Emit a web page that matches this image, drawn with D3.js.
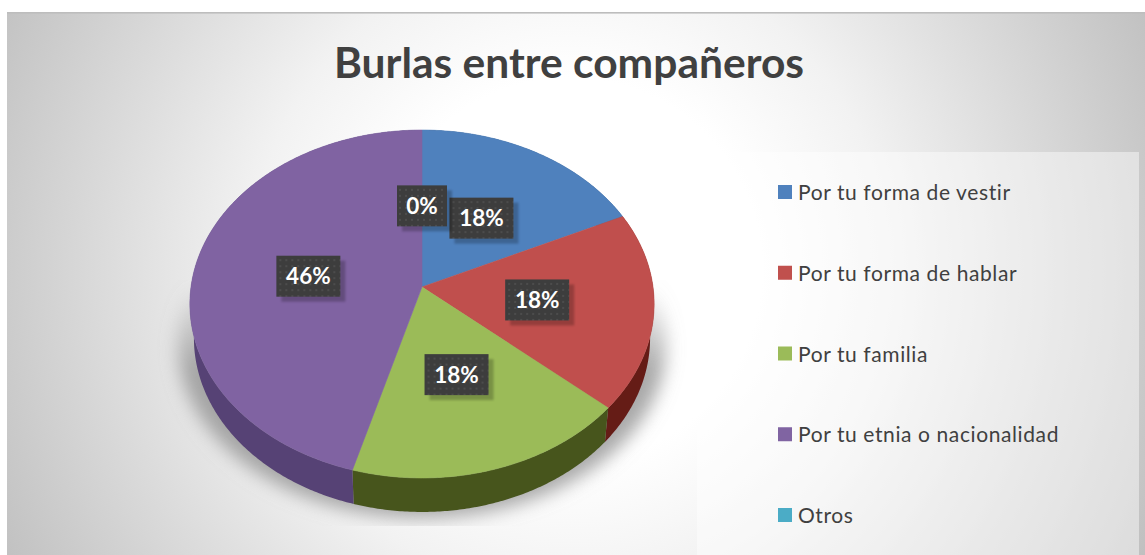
<!DOCTYPE html>
<html><head><meta charset="utf-8">
<script src="https://cdn.jsdelivr.net/npm/d3@7/dist/d3.min.js"></script>
<style>html,body{margin:0;padding:0;background:#fff;overflow:hidden}svg{display:block}text{font-family:Lato,"Open Sans",sans-serif}</style>
</head><body><svg id="c" width="1145" height="555"></svg>
<script>
const chartTitle = "Burlas entre compañeros";
const categories = ["Por tu forma de vestir","Por tu forma de hablar","Por tu familia","Por tu etnia o nacionalidad","Otros"];
const values = [18, 18.4, 18, 45.6, 0];
const labels = ["18%","18%","18%","46%","0%"];
const colors = ["#4f81bd","#c0504d","#9bbb59","#8064a2","#4bacc6"];
const wallColors = ["#2f4d72","#651a16","#47541e","#574274","#2d6b7a"];

const svg = d3.select("#c");
const defs = svg.append("defs");
const grad = defs.append("radialGradient").attr("id","bg").attr("gradientUnits","userSpaceOnUse")
  .attr("cx",570).attr("cy",270).attr("r",640);
[[0,"#ffffff"],[0.3,"#ffffff"],[0.5,"#f2f2f2"],[1,"#c0c0c0"]].forEach(s=>grad.append("stop").attr("offset",s[0]).attr("stop-color",s[1]));
const shGrad = defs.append("linearGradient").attr("id","shG").attr("gradientUnits","userSpaceOnUse").attr("x1",0).attr("x2",0).attr("y1",285).attr("y2",370);
[[0,"#939393",0],[1,"#939393",0.8]].forEach(s=>shGrad.append("stop").attr("offset",s[0]).attr("stop-color",s[1]).attr("stop-opacity",s[2]));
defs.append("filter").attr("id","blurS").attr("x","-20%").attr("y","-20%").attr("width","140%").attr("height","140%")
  .append("feGaussianBlur").attr("stdDeviation",9);
defs.append("filter").attr("id","blurB").attr("x","-20%").attr("y","-20%").attr("width","140%").attr("height","140%")
  .append("feGaussianBlur").attr("stdDeviation",1.2);
defs.append("filter").attr("id","soft").append("feGaussianBlur").attr("stdDeviation",0.7);
defs.append("clipPath").attr("id","shClip").append("rect").attr("x",150).attr("y",280).attr("width",540).attr("height",246);
const pat = defs.append("pattern").attr("id","dots").attr("patternUnits","userSpaceOnUse").attr("width",6).attr("height",6);
pat.append("rect").attr("width",6).attr("height",6).attr("fill","#3d3d3d");
pat.append("rect").attr("x",1).attr("y",1).attr("width",2).attr("height",2).attr("fill","#4c4c4c");

// card
svg.append("rect").attr("x",7).attr("y",12).attr("width",1138).attr("height",543).attr("fill","url(#bg)");
svg.append("rect").attr("x",7).attr("y",12).attr("width",1138).attr("height",1.6).attr("fill","#bdbdbd");

// title
svg.append("text").attr("x",569).attr("y",78).attr("text-anchor","middle")
  .attr("font-size",42).attr("font-weight",700).attr("fill","#404040")
  .attr("textLength",470).attr("lengthAdjust","spacingAndGlyphs").text(chartTitle);

// legend
svg.append("rect").attr("x",697).attr("y",152).attr("width",442).attr("height",403).attr("fill","#ffffff").attr("opacity",0.45);
const yLegend = d3.scalePoint().domain(categories).range([192,515]);
const lg = svg.append("g").selectAll("g").data(categories).join("g");
lg.append("rect").attr("x",778).attr("y",d=>yLegend(d)-7).attr("width",14).attr("height",14).attr("fill",(d,i)=>colors[i]);
lg.append("text").attr("x",798).attr("y",d=>yLegend(d)+8).attr("font-size",21).attr("letter-spacing",0.6).attr("fill","#404040").text(d=>d);

// perspective pie projection
const cx=422, cy=287, A=231, B=172.3, k=0.0977, depth=34, Ab=227;
const proj=(t,r,a=A,dy=0)=>{const u=Math.sin(t)*r,v=-Math.cos(t)*r,den=1-k*v;return [cx+a*u/den,cy+dy+B*v/den];};
const arcs=d3.pie().sort(null).value(d=>d)(values);
const line=d3.line();
const steps=(a,b)=>{const n=Math.max(2,Math.ceil((b-a)/0.01));return d3.range(n+1).map(i=>a+(b-a)*i/n);};
const rim=(a,b,w,dy)=>steps(a,b).map(t=>proj(t,1,w,dy));
const full=steps(0,2*Math.PI);

// shadow
svg.append("g").attr("clip-path","url(#shClip)").append("path")
  .attr("d",line(full.map(t=>proj(t,1.0,A+12,depth+6)))+"Z")
  .attr("fill","url(#shG)").attr("filter","url(#blurS)");

const pie=svg.append("g").attr("filter","url(#soft)");
// walls
pie.selectAll(".wall").data(arcs).join("path").attr("class","wall")
  .attr("d",d=>d.endAngle>d.startAngle?line([...rim(d.startAngle,d.endAngle,A,0),...rim(d.startAngle,d.endAngle,Ab,depth).reverse()])+"Z":null)
  .attr("fill",(d,i)=>wallColors[i]);
// top surface
pie.selectAll(".top").data(arcs).join("path").attr("class","top")
  .attr("d",d=>d.endAngle>d.startAngle?line([[cx,cy],...rim(d.startAngle,d.endAngle,A,0)])+"Z":null)
  .attr("fill",(d,i)=>colors[i]).attr("stroke",(d,i)=>colors[i]).attr("stroke-width",0.6);

// data labels
const bw=l=>l.length>2?64:50, bh=41;
const lb=svg.append("g").selectAll("g").data(arcs).join("g")
  .attr("transform",d=>{const p=proj((d.startAngle+d.endAngle)/2,0.5);return `translate(${p[0]},${p[1]+1})`;});
lb.append("rect").attr("x",(d,i)=>-bw(labels[i])/2+5).attr("y",-bh/2+5).attr("width",(d,i)=>bw(labels[i])).attr("height",bh)
  .attr("fill","#000").attr("opacity",0.22).attr("filter","url(#blurB)");
lb.append("rect").attr("x",(d,i)=>-bw(labels[i])/2).attr("y",-bh/2).attr("width",(d,i)=>bw(labels[i])).attr("height",bh).attr("fill","url(#dots)");
lb.append("text").attr("text-anchor","middle").attr("y",8).attr("font-size",22.5).attr("font-weight",700).attr("fill","#fff").text((d,i)=>labels[i]);
</script></body></html>
